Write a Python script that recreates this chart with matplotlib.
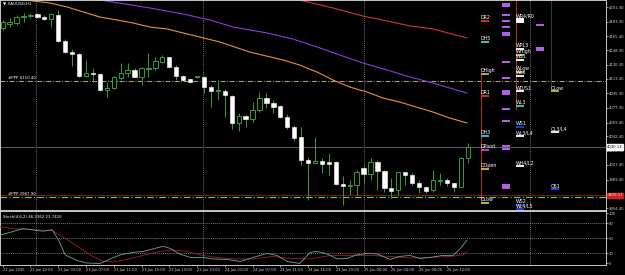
import matplotlib
matplotlib.use('Agg')
import numpy as np
from matplotlib import pyplot as plt
from matplotlib.patches import Rectangle

# ---------------- H1 candles ----------------
opens = [4175.5, 4181.0, 4181.6, 4189.6, 4190.2, 4192.7, 4189.0, 4186.6, 4191.5, 4159.5,
         4146.0, 4143.6, 4116.5, 4120.2, 4119.0, 4099.3, 4101.8, 4114.1, 4120.2, 4123.9,
         4115.3, 4125.1, 4126.4, 4133.7, 4139.9, 4127.6, 4116.5, 4112.9, 4115.3, 4115.3,
         4103.0, 4098.7, 4098.1, 4091.9, 4058.8, 4067.4, 4063.7, 4074.8, 4089.5, 4083.4,
         4079.7, 4066.2, 4053.9, 4041.6, 4013.3, 4009.6, 4012.1, 4010.9, 4010.9, 3983.9,
         3982.0, 3982.6, 4003.5, 3996.1, 4010.9, 3999.8, 3978.9, 3976.5, 3998.6, 3994.9,
         3985.1, 3980.2, 3976.5, 3987.5, 3988.8, 3985.1, 3980.2, 4015.8]
highs = [4185.3, 4187.8, 4191.5, 4193.9, 4193.9, 4193.9, 4191.5, 4193.9, 4197.6, 4162.0,
         4149.7, 4144.8, 4136.2, 4126.4, 4120.2, 4109.2, 4116.5, 4132.5, 4132.5, 4126.4,
         4127.6, 4144.8, 4139.9, 4142.3, 4139.9, 4130.0, 4117.8, 4114.1, 4116.5, 4116.5,
         4105.5, 4111.6, 4100.6, 4093.2, 4071.1, 4068.6, 4084.6, 4096.9, 4095.6, 4087.1,
         4080.9, 4069.8, 4056.3, 4053.9, 4017.0, 4041.6, 4015.8, 4021.9, 4012.1, 3993.7,
         3988.8, 4001.1, 4007.2, 4015.8, 4013.3, 4001.1, 3991.2, 3998.6, 3998.6, 3997.4,
         3988.8, 3981.4, 4001.1, 3997.4, 3991.2, 3985.1, 4017.0, 4034.2]
lows = [4173.0, 4176.7, 4179.2, 4182.9, 4187.8, 4187.8, 4185.3, 4176.7, 4158.3, 4144.8,
        4128.8, 4115.3, 4115.3, 4109.2, 4098.1, 4090.7, 4100.6, 4111.6, 4115.3, 4115.3,
        4105.5, 4115.3, 4123.9, 4132.5, 4126.4, 4111.6, 4110.4, 4107.9, 4114.1, 4095.6,
        4078.5, 4087.1, 4066.2, 4051.4, 4049.0, 4053.9, 4060.0, 4072.3, 4077.2, 4071.1,
        4064.9, 4051.4, 4036.7, 4007.2, 3964.2, 4009.6, 3997.4, 3995.0, 3982.6, 3958.1,
        3970.3, 3970.3, 3985.1, 3988.8, 3976.5, 3974.0, 3966.7, 3970.3, 3982.6, 3982.6,
        3972.8, 3972.8, 3974.0, 3982.6, 3981.4, 3974.0, 3980.2, 4009.6]
closes = [4182.9, 4182.3, 4189.0, 4190.2, 4190.8, 4189.0, 4186.6, 4192.7, 4159.5, 4146.0,
          4143.6, 4116.5, 4120.2, 4119.0, 4099.3, 4101.8, 4115.3, 4120.2, 4123.9, 4115.3,
          4126.4, 4126.4, 4135.0, 4139.9, 4127.6, 4116.5, 4111.6, 4109.2, 4115.9, 4103.0,
          4098.1, 4099.9, 4093.2, 4058.8, 4067.4, 4063.7, 4074.8, 4089.5, 4083.4, 4078.5,
          4066.2, 4053.9, 4040.4, 4013.3, 4009.6, 4012.1, 4008.4, 4008.4, 3983.9, 3981.4,
          3983.3, 3998.6, 3996.1, 4010.9, 3999.8, 3978.9, 3975.3, 3998.6, 3994.9, 3985.1,
          3980.2, 3975.3, 3988.8, 3988.8, 3985.1, 3980.2, 4015.8, 4029.3]

# moving averages (bar index, price)
ma_orange_x = [2.5, 4.4, 6.8, 9.3, 11.6, 14.0, 16.5, 18.8, 21.2, 23.7, 26.0, 28.4, 31.3, 35.6,
               40.4, 42.8, 45.3, 47.6, 50.0, 52.5, 54.8, 57.2, 62.0, 64.4, 66.9]
ma_orange_y = [4211.1, 4208.7, 4206.2, 4201.3, 4195.2, 4189.0, 4185.3, 4181.6, 4176.7, 4174.3,
               4169.4, 4164.4, 4158.3, 4146.0, 4136.2, 4130.0, 4121.4, 4111.6, 4103.0, 4096.9,
               4089.5, 4084.6, 4072.3, 4065.0, 4058.8]
ma_purple_x = [13.3, 14.0, 21.2, 26.0, 29.9, 33.2, 38.1, 41.8, 45.3, 48.6, 51.9, 55.4, 58.7, 62.0, 66.9]
ma_purple_y = [4211.1, 4209.9, 4200.1, 4192.7, 4185.3, 4176.7, 4169.4, 4162.0, 4152.2, 4142.3,
               4132.5, 4123.9, 4115.3, 4107.9, 4095.6]
ma_red_x = [41.4, 42.7, 47.6, 51.9, 55.4, 58.7, 62.0, 66.9]
ma_red_y = [4211.1, 4209.9, 4200.1, 4190.2, 4184.1, 4178.0, 4174.3, 4163.2]

# stochastic (bar index, value)
st_main_x = [-0.4, 2.9, 5.8, 7.1, 8.0, 9.0, 10.7, 12.1, 14.0, 15.5, 16.9, 18.8, 20.2, 21.7, 23.1,
             24.1, 25.5, 27.0, 28.9, 30.3, 32.3, 34.2, 36.1, 38.1, 39.5, 41.0, 42.8, 44.3, 45.3,
             46.7, 48.2, 49.6, 51.0, 52.5, 53.9, 55.8, 57.2, 58.7, 60.1, 61.6, 63.4, 64.9, 65.9, 66.9]
st_main_y = [56, 69, 64, 67, 48, 17, 6, 1, 0, 9, 17, 22, 24, 29, 34, 30, 19, 12, 12, 9, 8, 4, 12,
             20, 16, 4, 0, 22, 24, 19, 9, 10, 17, 20, 19, 8, 14, 16, 10, 12, 16, 16, 29, 46.3]
st_sig_x = [-0.4, 1.5, 4.4, 7.2, 8.7, 10.7, 12.6, 14.5, 15.9, 17.9, 20.2, 22.7, 24.5, 26.6, 28.4,
            30.9, 33.2, 36.1, 38.9, 41.4, 44.3, 47.2, 50.0, 52.9, 55.8, 58.7, 61.6, 64.5, 66.3, 66.9]
st_sig_y = [73, 69, 67, 65, 52, 35, 17, 4, 3, 8, 16, 24, 27, 24, 17, 12, 9, 9, 14, 10, 9, 16, 16,
            16, 14, 11, 12, 14, 17, 23.7]

time_labels = ['22 Jun 2026', '22 Jun 22:00', '23 Jun 03:00', '23 Jun 07:00', '23 Jun 11:00',
               '23 Jun 15:00', '23 Jun 19:00', '23 Jun 23:00', '24 Jun 03:00', '24 Jun 07:00',
               '24 Jun 11:00', '24 Jun 15:00', '24 Jun 19:00', '25 Jun 00:00', '25 Jun 04:00',
               '25 Jun 08:00', '25 Jun 12:00']
day_sep = [4.8, 28.9, 52.0, 76.0]

price_ticks = [4201.30, 4183.30, 4165.40, 4148.30, 4130.30, 4113.40, 4095.30, 4077.30,
               4059.40, 4042.40, 4024.50, 4007.40, 3989.40, 3954.40]
stoch_ticks = [0, 20, 50, 80, 100]

# pivot labels on the right: text, price, column (bar), colour
piv_text = ['DR2', 'DH5', 'DHigh', 'DR1', 'DH3', 'DPivot', 'DOpen', 'DLow',
            'WR4/R0', 'WPL3', 'WHigh', 'WS1', 'WLow', 'WL3', 'WD/S1', 'WL3', 'WS1', 'WL3/L4',
            'WH4/L2', 'WS2', 'WL4/L5', 'QLow', 'QL3/L4', 'QS1']
piv_price = [4184.1, 4158.3, 4119.0, 4092.0, 4042.8, 4025.6, 4002.3, 3960.5,
             4186.0, 4149.7, 4142.3, 4136.2, 4121.4, 4116.5, 4098.1, 4079.7, 4053.9, 4042.8,
             4005.9, 3958.1, 3953.1, 4098.1, 4047.7, 3977.7]
piv_col = [68.9] * 8 + [74.0] * 13 + [79.0] * 3
piv_color = ['#e0302a', '#40d0d0', '#a8c840', '#e0302a', '#40d0d0', '#d040d0', '#e8b040', '#c8c840',
             'white', 'white', '#a8c840', 'white', '#a8c840', 'white', 'white', '#40d0d0',
             '#2040e0', 'white', 'white', '#2040e0', '#2040e0', '#a8c840', 'white', '#2040e0']

# filled blocks (top, bottom, column, colour)
blk_top = [4206.2, 4192.7, 4185.3, 4178.0, 4170.6, 4134.9, 4115.3, 4099.3, 4077.2, 4062.5,
           4031.8, 4028.1, 3983.9, 4180.4, 4152.2, 4187.8]
blk_bot = [4201.3, 4190.2, 4182.9, 4175.5, 4165.7, 4132.5, 4112.9, 4093.2, 4074.8, 4060.0,
           4029.3, 4025.6, 3977.7, 4178.0, 4147.3, 4181.6]
blk_col = [71.9] * 13 + [76.9] * 2 + [73.9]
blk_color = ['#b060e0'] * 15 + ['white']

ppp_hi = 4110.4
ppp_lo = 3967.9
bid = 4029.3
red_lvl = 3970.3

green = '#3a9a3a'
grid_c = '#9a9a9a'

fig = plt.figure(figsize=(6.25, 2.75), dpi=100, facecolor='black')
ax = fig.add_axes([0, 1 - 210 / 275, 606 / 625, 210 / 275])
ax2 = fig.add_axes([0, 10 / 275, 606 / 625, 54 / 275])

for a in (ax, ax2):
    a.set_facecolor('black')
    for s in a.spines.values():
        s.set_color('#c8c8c8')
        s.set_linewidth(0.7)
    a.set_xlim(-0.39, 86.93)
    a.yaxis.tick_right()
    a.tick_params(axis='y', colors='#d0d0d0', labelsize=2.7, length=1.5, width=0.5, pad=0.6)
    for d in day_sep:
        a.axvline(d, color=grid_c, lw=0.5, ls=(0, (1.5, 1.5)), zorder=1)

ax.set_ylim(3952.0, 4209.9)
ax.set_xticks([])
ax.set_yticks(price_ticks)
ax.set_yticklabels(['%.2f' % p for p in price_ticks])

o = np.array(opens); c = np.array(closes); h = np.array(highs); l = np.array(lows)
x = np.arange(len(o))
up = c >= o
ax.vlines(x, l, h, color=green, lw=0.7, zorder=3)
bot = np.minimum(o, c)
hgt = np.maximum(np.abs(c - o), 0.8)
ax.bar(x[up], hgt[up], bottom=bot[up], width=0.62, facecolor='black', edgecolor=green, lw=0.7, zorder=4)
ax.bar(x[~up], hgt[~up], bottom=bot[~up], width=0.62, facecolor='white', edgecolor='white', lw=0.4, zorder=4)

ax.plot(ma_orange_x, ma_orange_y, color='#e8903c', lw=0.8, zorder=2)
ax.plot(ma_purple_x, ma_purple_y, color='#8a3adf', lw=0.8, zorder=2)
ax.plot(ma_red_x, ma_red_y, color='#d03a2a', lw=0.8, zorder=2)

# horizontal levels
ax.axhline(bid, color='#5a5a5a', lw=0.7, zorder=1)
ax.axhline(ppp_hi, color='#c8c896', lw=0.6, ls=(0, (6, 2, 1, 2)), zorder=1)
ax.axhline(red_lvl, color='#b02020', lw=0.5, zorder=1)
ax.axhline(ppp_lo, color='#7ec850', lw=0.8, ls=(0, (6, 2, 1, 2)), zorder=1)
ax.text(0.7, ppp_hi + 1.0, '#PPP 4110.40', color='white', fontsize=2.8, va='bottom')
ax.text(0.7, ppp_lo + 1.0, '#PPP 3967.90', color='white', fontsize=2.8, va='bottom')

# range verticals
ax.vlines(68.9, 3960.5, 4119.0, color='#c02828', lw=0.7, zorder=2)
ax.vlines(74.0, 4075.0, 4215.0, color='#c02828', lw=0.7, zorder=2)
ax.vlines(79.0, 4098.1, 4215.0, color='#1f4a1f', lw=0.7, zorder=2)

for t, p, cx, cl in zip(piv_text, piv_price, piv_col, piv_color):
    ax.hlines(p, cx, cx + 1.15, color=cl, lw=1.3, zorder=5)
    ax.text(cx, p + 0.8, t, color='white', fontsize=3.4, va='bottom', ha='left', zorder=6)

for tp, bt, cx, cl in zip(blk_top, blk_bot, blk_col, blk_color):
    ax.add_patch(Rectangle((cx, bt), 1.15, tp - bt, facecolor=cl, edgecolor='none', zorder=5))

ax.text(0.005, 0.995, '\u25bc XAUUSD,H1', transform=ax.transAxes, color='white', fontsize=3.0,
        va='top', ha='left')

yt = ax.get_yaxis_transform()
ax.text(1.002, bid, '4030.13', transform=yt, color='black', fontsize=2.7, va='center', ha='left',
        bbox=dict(facecolor='white', edgecolor='white', pad=0.4), zorder=10)
ax.text(1.002, red_lvl, '3970.17', transform=yt, color='white', fontsize=2.7, va='center', ha='left',
        bbox=dict(facecolor='#d02020', edgecolor='#d02020', pad=0.4), zorder=10)

# stochastic panel
ax2.set_ylim(-3, 104)
ax2.set_yticks(stoch_ticks)
ax2.set_yticklabels([str(v) for v in stoch_ticks])
for lv in (20, 50, 80):
    ax2.axhline(lv, color=grid_c, lw=0.5, ls=(0, (1.5, 1.5)), zorder=1)
ax2.plot(st_sig_x, st_sig_y, color='#a01c2c', lw=0.6, zorder=3)
ax2.plot(st_main_x, st_main_y, color='#6fa88f', lw=0.6, zorder=4)
ax2.text(0.005, 0.93, 'Stoch(4,6,2) 46.3362 23.7416', transform=ax2.transAxes, color='white',
         fontsize=2.8, va='top', ha='left')
ax2.set_xticks(np.arange(0, 4 * len(time_labels), 4))
ax2.set_xticklabels(time_labels, ha='left')
ax2.tick_params(axis='x', colors='#d0d0d0', labelsize=2.6, length=1.5, width=0.5, pad=0.8)

fig.savefig('out.png', dpi=100, facecolor='black')
